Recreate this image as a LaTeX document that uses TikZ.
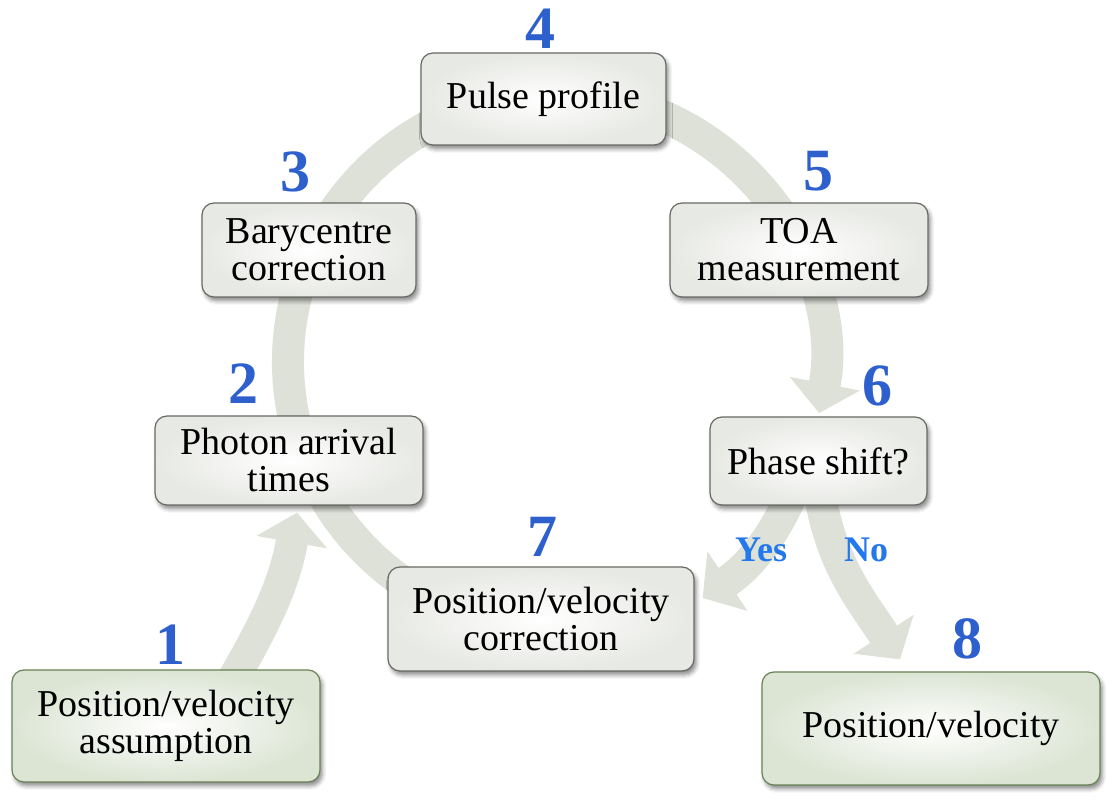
\documentclass[tikz,border=0pt]{standalone}
\usepackage{fontspec}
\setmainfont{Liberation Serif}
\usepackage{tikz}
\definecolor{numblue}{RGB}{45,95,205}
\definecolor{ansblue}{RGB}{35,120,235}
\definecolor{flowgrey}{RGB}{221,225,216}
\definecolor{boxline}{RGB}{105,105,100}
\definecolor{boxfill}{RGB}{231,233,228}
\definecolor{greenline}{RGB}{105,130,85}
\definecolor{greenfill}{RGB}{220,229,212}
\usetikzlibrary{arrows.meta, calc, backgrounds, shadows.blur}

\begin{document}
\begin{tikzpicture}[x=0.5pt, y=0.5pt,
        box/.style={draw=boxline, line width=0.6pt, rounded corners=6pt,
            inner color=white, outer color=boxfill, align=center,
            font=\fontsize{19}{18.5}\selectfont,
            blur shadow={shadow xshift=1.2pt, shadow yshift=-2pt, shadow blur radius=2pt, shadow opacity=45}},
        startbox/.style={box, draw=greenline, outer color=greenfill},
        num/.style={text=numblue, font=\fontsize{30}{30}\selectfont\bfseries},
        answer/.style={text=ansblue, font=\fontsize{18}{18}\selectfont\bfseries},
        flow/.style={draw=flowgrey, line width=16pt, -{Triangle[width=35pt, length=15pt]}}]
        % Bildbereich
        \useasboundingbox (0,0) rectangle (1114,803);
        % Kaesten
        \node[startbox, minimum width=154pt, minimum height=56pt] (b1) at (166,77) {Position/velocity\\assumption};
        \node[box, minimum width=134pt, minimum height=44.5pt] (b2) at (289,342.5) {Photon arrival\\times};
        \node[box, minimum width=107pt, minimum height=47pt] (b3) at (309,553) {Barycentre\\correction};
        \node[box, minimum width=122.5pt, minimum height=46pt] (b4) at (543.5,704) {Pulse profile};
        \node[box, minimum width=129pt, minimum height=47pt] (b5) at (799,553) {TOA\\measurement};
        \node[box, minimum width=108.5pt, minimum height=44pt] (b6) at (818.5,342) {Phase shift?};
        \node[box, minimum width=153pt, minimum height=52pt] (b7) at (541,184) {Position/velocity\\correction};
        \node[startbox, minimum width=169pt, minimum height=56.5pt] (b8) at (931,74.5) {Position/velocity};
        % Nummern
        \node[num] (n1) at (170,158) {1};
        \node[num] (n2) at (243,419) {2};
        \node[num] (n3) at (295,631) {3};
        \node[num] (n4) at (540,774) {4};
        \node[num] (n5) at (818,632) {5};
        \node[num] (n6) at (877,417) {6};
        \node[num] (n7) at (542,266) {7};
        \node[num] (n8) at (967,164) {8};
        \node[answer] (yes) at (761,253) {Yes};
        \node[answer] (no) at (866,253) {No};
        % Pfeile
        \begin{scope}[on background layer]
            \coordinate (hub) at (556,441);
            \draw[flow] ($(hub)+(238:268)$) arc[start angle=238, end angle=-11, radius=268];
            \draw[flow] ($(b1.north)+(67,-10)$) to[out=60, in=-100] ($(b2.south)+(8,-7)$);
            \draw[flow] ($(b6.south)+(-28,8)$) to[out=-115, in=34] ($(b7.east)+(8,21)$);
            \draw[flow] ($(b6.south)+(2,8)$) to[out=-80, in=123] ($(b8.north)+(-31,12)$);
        \end{scope}
    \end{tikzpicture}
\end{document}
